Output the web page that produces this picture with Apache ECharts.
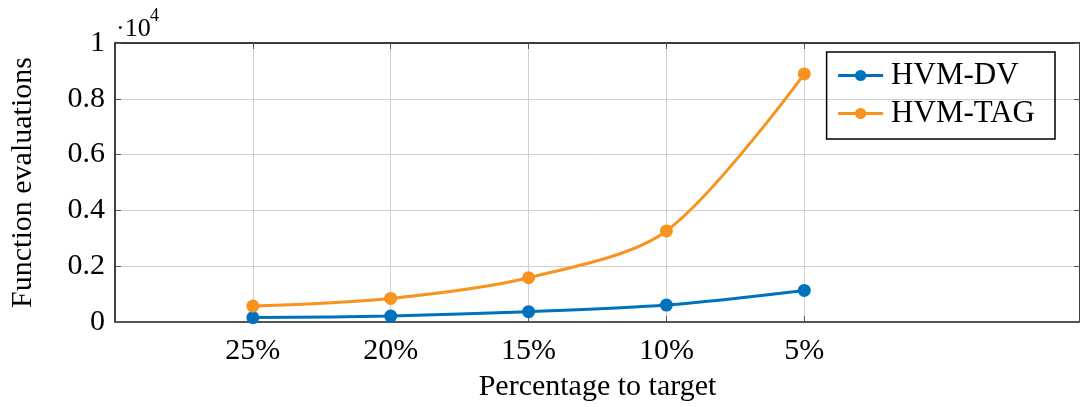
<!DOCTYPE html>
<html>
<head>
<meta charset="utf-8">
<script src="https://cdn.jsdelivr.net/npm/echarts@6/dist/echarts.min.js"></script>
<style>
  html, body { margin: 0; padding: 0; background: #fff; }
  #chart { width: 1080px; height: 407px; }
</style>
</head>
<body>
<div id="chart"></div>
<script>
// categories and values
const categories = ['25%', '20%', '15%', '10%', '5%'];
const hvmDv = [157, 214, 371, 607, 1132];
const hvmTag = [571, 846, 1586, 3264, 8893];

const serif = '"Liberation Serif", "DejaVu Serif", serif';

const chart = echarts.init(document.getElementById('chart'));

const toPairs = arr => arr.map((v, i) => [i, v]);
const catIdx = categories.map((c, i) => i);

const option = {
  animation: false,
  color: ['#0072bd', '#f7931e'],
  // exponent note of the y axis
  graphic: [
    {
      type: 'text', left: 116, top: 16,
      style: { text: '·10', font: '26px ' + serif, fill: '#000' }
    },
    {
      type: 'text', left: 150, top: 7,
      style: { text: '4', font: '18px ' + serif, fill: '#000' }
    }
  ],
  legend: {
    orient: 'vertical',
    right: 25,
    top: 52,
    padding: [8, 20, 10, 10],
    itemGap: 7,
    itemWidth: 45,
    itemHeight: 14,
    borderColor: '#000',
    borderWidth: 1.5,
    lineStyle: { width: 3 },
    textStyle: { fontFamily: serif, fontSize: 31, lineHeight: 30, color: '#000', padding: [0, 0, 0, 3] },
    data: ['HVM-DV', 'HVM-TAG']
  },
  grid: { left: 114, right: 0, top: 43, bottom: 84 },
  xAxis: [
    {
      type: 'value',
      min: -1,
      max: 6,
      interval: 1,
      axisLine: { show: true, onZero: false, lineStyle: { color: '#555', width: 2 } },
      axisTick: { show: true, inside: true, length: 6, customValues: catIdx, lineStyle: { color: '#555' } },
      axisLabel: {
        customValues: catIdx,
        formatter: v => categories[v] || '',
        fontFamily: serif, fontSize: 30, color: '#000', margin: 14
      },
      splitLine: { show: true, lineStyle: { color: '#d0d0d0', width: 1 } },
      name: 'Percentage to target',
      nameLocation: 'middle',
      nameGap: 50,
      nameTextStyle: { fontFamily: serif, fontSize: 30, color: '#000' }
    },
    {
      type: 'value',
      position: 'top',
      min: -1,
      max: 6,
      interval: 1,
      axisLine: { show: true, onZero: false, lineStyle: { color: '#000', width: 1.5 } },
      axisTick: { show: true, inside: true, length: 6, customValues: catIdx, lineStyle: { color: '#555' } },
      axisLabel: { show: false },
      splitLine: { show: false }
    }
  ],
  yAxis: [
    {
      type: 'value',
      min: 0,
      max: 10000,
      interval: 2000,
      axisLine: { show: true, onZero: false, lineStyle: { color: '#000', width: 1.5 } },
      axisTick: { show: true, inside: true, length: 6, lineStyle: { color: '#555' } },
      axisLabel: {
        formatter: v => String(+(v / 10000).toFixed(1)),
        fontFamily: serif, fontSize: 30, color: '#000', margin: 10
      },
      splitLine: { show: true, lineStyle: { color: '#d0d0d0', width: 1 } },
      name: 'Function evaluations',
      nameLocation: 'middle',
      nameGap: 77,
      nameTextStyle: { fontFamily: serif, fontSize: 30, color: '#000' }
    },
    {
      type: 'value',
      position: 'right',
      min: 0,
      max: 10000,
      interval: 2000,
      axisLine: { show: true, onZero: false, lineStyle: { color: '#000', width: 1.5 } },
      axisTick: { show: true, inside: true, length: 6, lineStyle: { color: '#555' } },
      axisLabel: { show: false },
      splitLine: { show: false }
    }
  ],
  series: [
    {
      name: 'HVM-DV',
      type: 'line',
      smooth: 0.3,
      symbol: 'circle',
      symbolSize: 13,
      lineStyle: { width: 3 },
      data: toPairs(hvmDv)
    },
    {
      name: 'HVM-TAG',
      type: 'line',
      smooth: 0.3,
      symbol: 'circle',
      symbolSize: 13,
      lineStyle: { width: 3 },
      data: toPairs(hvmTag)
    }
  ]
};

chart.setOption(option);
</script>
</body>
</html>
